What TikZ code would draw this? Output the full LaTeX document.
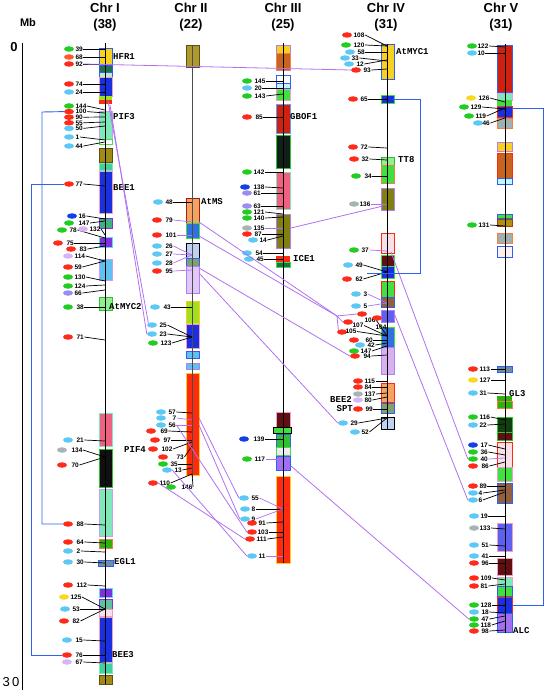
\documentclass[tikz,border=0pt]{standalone}
\usepackage{fontspec}
\setmainfont{Liberation Sans}
\newfontfamily\genefont{Liberation Mono}
\usetikzlibrary{shapes.geometric}
% marker colours
\definecolor{cred}{HTML}{FF2A1A}\definecolor{corg}{HTML}{FF5A28}\definecolor{cgrn}{HTML}{22CC22}
\definecolor{clb}{HTML}{5CC8F5}\definecolor{cblu}{HTML}{1040E8}\definecolor{clav}{HTML}{D8B4F4}
\definecolor{cmp}{HTML}{9A8CF0}\definecolor{cgry}{HTML}{A8B4B4}\definecolor{cyel}{HTML}{F8D820}
\definecolor{plcol}{HTML}{B070F0}\definecolor{blcol}{HTML}{3060F0}
% box colours
\definecolor{bgold}{HTML}{F8D020}\definecolor{bblue}{HTML}{1A30E0}\definecolor{bpink}{HTML}{F0A0C0}
\definecolor{bdkgrn}{HTML}{207050}\definecolor{bpale}{HTML}{B8F0C8}\definecolor{byg}{HTML}{A0E020}
\definecolor{baqua}{HTML}{80E8B8}\definecolor{blavb}{HTML}{C8A0F0}\definecolor{bolive}{HTML}{A08A18}
\definecolor{bdkbr}{HTML}{605010}\definecolor{bteal}{HTML}{40D0A0}\definecolor{bsea}{HTML}{40B080}
\definecolor{bviolet}{HTML}{8030E0}\definecolor{bcyan}{HTML}{60E0E0}\definecolor{bsky}{HTML}{60C0F0}
\definecolor{blgreen}{HTML}{90F090}\definecolor{bgreen}{HTML}{30C030}\definecolor{bpinkred}{HTML}{F06080}
\definecolor{bblack}{HTML}{101010}\definecolor{bgrn2}{HTML}{30B010}\definecolor{borange}{HTML}{F08040}
\definecolor{bslate}{HTML}{7090A0}\definecolor{bmaq}{HTML}{60C0A0}\definecolor{bmisty}{HTML}{F8E0E8}
\definecolor{bsandy}{HTML}{F4A460}\definecolor{bdkred}{HTML}{A02010}\definecolor{broyal}{HTML}{3070E0}
\definecolor{blime}{HTML}{40E040}\definecolor{blsteel}{HTML}{C0D0F0}\definecolor{bgg}{HTML}{80A070}
\definecolor{bthistle}{HTML}{E0C8F8}\definecolor{bpurple}{HTML}{B080F0}\definecolor{bred}{HTML}{FF2A10}
\definecolor{bchoc}{HTML}{C8641E}\definecolor{bsalmon}{HTML}{F08060}\definecolor{blcyan}{HTML}{C0F8FF}
\definecolor{bfire}{HTML}{D02010}\definecolor{bcorn}{HTML}{60A0F0}\definecolor{bnblack}{HTML}{102018}
\definecolor{bolive2}{HTML}{808010}\definecolor{bmaroon}{HTML}{601010}\definecolor{blav2}{HTML}{F0E8F8}
\definecolor{bmp}{HTML}{A070F0}\definecolor{bsienna}{HTML}{906040}\definecolor{bmslate}{HTML}{6060F0}
\definecolor{bplum}{HTML}{D8B0F0}\definecolor{bgray}{HTML}{A0B0B0}\definecolor{bdkg2}{HTML}{104010}
\definecolor{bolive3}{HTML}{B09010}\definecolor{bbrown}{HTML}{A04010}\definecolor{bwhite}{HTML}{FFF0F0}
\definecolor{bolive4}{HTML}{B09A30}
\begin{document}
\begin{tikzpicture}[x=1pt,y=-1pt,
  mk/.style={ellipse,minimum width=10pt,minimum height=5.5pt,inner sep=0pt},
  lab/.style={font=\bfseries\fontsize{6.5}{7}\selectfont,inner sep=0.4pt,anchor=west},
  tick/.style={line width=0.7pt},
  gene/.style={font=\genefont\bfseries\fontsize{9}{9}\selectfont,inner sep=0pt},
  ttl/.style={font=\bfseries\fontsize{13}{13}\selectfont,inner sep=0pt},
  plink/.style={draw=plcol,line width=0.8pt},
  blink/.style={draw=blcol,line width=0.9pt},
  bxs/.style={line width=0.8pt},
  chrline/.style={line width=0.8pt}]
\useasboundingbox (0,0) rectangle (544,690);
% titles
\node[ttl] (t1) at (105,8) {Chr I};   \node[ttl] (n1) at (105,25) {(38)};
\node[ttl] (t2) at (191,8) {Chr II};  \node[ttl] (n2) at (191,25) {(22)};
\node[ttl] (t3) at (283,8) {Chr III}; \node[ttl] (n3) at (283,25) {(25)};
\node[ttl] (t4) at (386,8) {Chr IV};  \node[ttl] (n4) at (386,25) {(31)};
\node[ttl] (t5) at (501,8) {Chr V};   \node[ttl] (n5) at (501,25) {(31)};
\node[font=\bfseries\fontsize{11}{11}\selectfont,inner sep=0pt] (mb) at (28,23) {Mb};
\node[ttl] (z0) at (14,47) {0};
\node[font=\fontsize{13}{13}\selectfont,inner sep=0pt] (z30) at (11,682) {3\,0};
\draw[line width=0.8pt] (22,43) -- (22,690);
% ---------- boxes Chr I
\foreach \ya/\yb/\f/\d in {48/64/bgold/blcol,65/72/bdkgrn/blcol,72/77/bpale/blcol,77/96/bblue/bpink,
  96/100/byg/none,100/104/bred/none,111/143/baqua/blavb,139/144/white/blime,148/162/bolive/bdkbr,
  163/170/bteal/baqua,171/213/bblue/bpink,218/228/bsea/bviolet,237/247/bviolet/bcyan,259/280/bsky/blavb,
  297/310/blgreen/bgreen,413/446/bpinkred/baqua,449/487/bblack/bgreen,489/536/baqua/blavb,
  539/548/bgrn2/borange,588/597/bviolet/bcyan,599/609/bmaq/bviolet,609/616/bmisty/bpink,
  617/662/bblue/bpink,663/673/bteal/baqua,675/684/bolive/bdkbr}
  \path[fill=\f,draw=\d,bxs] (99,\ya) rectangle (112,\yb);
\path[fill=bslate,draw=blcol,bxs] (98,560) rectangle (113,566);
% ---------- boxes Chr II
\foreach \ya/\yb/\f/\d in {45/67/bolive4/bdkbr,198/223/bsandy/bdkred,223/238/broyal/blime,
  243/258/blsteel/black,258/266/bgg/blcol,266/293/bthistle/bpurple,301/323/byg/bgold,
  324/348/bblue/bpink,351/358/bsky/blcol,363/369/bsky/bpurple,373/475/bred/bgold}
  \path[fill=\f,draw=\d,bxs] (186,\ya) rectangle (199,\yb);
% ---------- boxes Chr III
\foreach \ya/\yb/\f/\d in {45/53/bgold/bpurple,53/70/bchoc/bsalmon,75/83/white/blcol,83/88/blcyan/blcol,
  89/100/blime/bpink,104/133/bfire/bcorn,135/168/bnblack/bgreen,172/209/bpinkred/baqua,
  214/248/bolive2/bpurple,256/262/bred/none,262/267/bdkgrn/blime,412/427/bmaroon/bpink,
  434/447/bgreen/blcol,447/455/blav2/blime,456/470/bmp/blcol,476/563/bred/bgold}
  \path[fill=\f,draw=\d,bxs] (276,\ya) rectangle (290,\yb);
\path[fill=blime,draw=black,bxs] (273,427) rectangle (291,433);
% ---------- boxes Chr IV
\foreach \ya/\yb/\f/\d in {44/79/bgold/blcol,95/103/bblue/blime,157/165/blgreen/bgreen,165/183/blime/borange,
  188/210/bolive2/bpurple,233/253/bmisty/bred,255/266/bmaroon/blime,266/278/bblue/blime,
  281/297/blime/bred,297/307/bsienna/blcol,310/322/bmslate/bpurple,327/347/broyal/blime,
  347/374/bplum/bpurple,383/402/bsandy/bred,403/413/bgg/blcol,417/429/blsteel/black}
  \path[fill=\f,draw=\d,bxs] (381,\ya) rectangle (394,\yb);
% ---------- boxes Chr V
\foreach \ya/\yb/\f/\d in {45/92/bfire/blcol,93/100/baqua/bpink,100/106/blime/none,106/117/bblue/bred,
  118/128/bgray/borange,142/151/bgold/bpurple,153/178/bchoc/bred,178/184/blcyan/blcol,
  214/218/blime/blcol,219/226/bolive3/bbrown,233/243/bgray/borange,246/257/bwhite/blcol,
  366/372/bslate/blcol,396/401/bgrn2/none,401/408/bgrn2/borange,417/432/bdkg2/bgreen,
  432/440/bmaroon/bgreen,442/467/bmisty/bred,467/481/blime/bpink,483/503/bsienna/blcol,
  523/551/bmslate/bpink,558/575/bmaroon/bpink,577/586/baqua/bpink,586/596/blime/blcol,
  597/613/bblue/bred,613/632/bmp/blcol}
  \path[fill=\f,draw=\d,bxs] (497,\ya) rectangle (512,\yb);
% ---------- chromosome axes
\draw[chrline] (105,43) -- (105,684);
\draw[chrline,draw=black!70,line width=1pt] (192,45) -- (192,478);
\draw[chrline] (283,43) -- (283,563);
\draw[chrline] (387,44) -- (387,430);
\draw[chrline] (505,44) -- (505,633);
% ---------- markers Chr I
\foreach \ex/\lx/\y/\col/\lab/\ty/\tc in {69/75/49/cgrn/39/49/black,69/75/57/corg/68/57/black,
  69/75/64/cred/92/64/black,69/75/84/cred/74/84/black,69/75/92/clb/24/92/black,
  69/75/106/cgrn/144/110/black,69/75/111.6/cred/100/113/black,69/75/117.2/cred/90/117/black,
  69/75/122.8/cred/55/122/black,69/75/128.4/clb/50/126/black,69/75/137/clb/1/140/black,
  69/75/146/clb/44/142/black,69/75/184/cred/77/186/black,72/78/216/cblu/16/219/black,
  69/78/223/cgrn/147/221/black,62/69/230/cgrn/78/238/black,83/89/229/clav/132/235/black,
  58/66/243/cred/75/243/black,71/79/249/cred/83/246/black,68/74/256/clav/114/261/black,
  68/74/267/cred/59/261/black,68/74/277/cgrn/130/281/black,68/74/286/cgrn/124/285/black,
  68/74/293/cmp/66/290/black,68/76/307/cgrn/38/307/black,68/76/337/cred/71/340/black,
  68/76/440/clb/21/441/black,62/71/450/cgry/134/457/black,62/71/465/cred/70/457/black,
  68/76/524/cred/88/525/black,68/76/542/cred/64/543/black,68/76/551/clb/2/552/black,
  68/76/562/clb/30/563/black,68/76/585/cred/112/586/black,64/70/597/cyel/125/609/black,
  65/72/609/clb/53/609/black,64/72/621/cred/82/609/black,67/75/640/clb/15/641/black,
  67/75/655/cred/76/655/black,67/75/662/clav/67/663/black}
  {\node[mk,fill=\col] (I-e\lab) at (\ex,\y) {};
   \node[lab] (I-l\lab) at (\lx,\y) {\lab};
   \draw[tick,draw=\tc] (I-l\lab.east) -- (105,\ty);}
% ---------- markers Chr II
\foreach \ex/\lx/\y/\col/\lab/\ty/\tc in {158/165/202/clb/48/202/black,157/165/220/cred/79/222/plcol,
  157/165/235/cred/101/235/plcol,157/165/246/clb/26/255/plcol,157/165/254/clb/27/255/plcol,
  157/165/263/clb/28/255/plcol,157/165/271/cred/95/270/plcol,155/163/307/clb/43/307/black,
  152/159/325/clb/25/337/black,152/159/334/clb/23/337/black,153/160/343/cgrn/123/337/black,
  161/168/412/clb/57/413/black,161/172/418/clb/7/420/plcol,161/168/425/clb/56/425/plcol,
  151/160/431/cred/69/432/black,155/163/440/cred/97/440/black,153/161/449/cred/102/442/black,
  163/176/457/cred/73/446/black,163/170/464/cgrn/35/464/black,167/174/470/clb/13/468/black,
  153/159/483/cred/110/474/black,171/181/487/cgrn/146/474/black}
  {\node[mk,fill=\col] (II-e\lab) at (\ex,\y) {};
   \node[lab] (II-l\lab) at (\lx,\y) {\lab};
   \draw[tick,draw=\tc] (II-l\lab.east) -- (192,\ty);}
% ---------- markers Chr III
\foreach \ex/\lx/\y/\col/\lab/\ty/\tc in {247/254/81/cgrn/145/81/black,247/254/88/clb/20/88/black,
  247/254/96/cgrn/143/94/black,247/255/117/cred/85/117/black,247/253/172/cgrn/142/172/black,
  245/253/187/cblu/138/188/black,247/253/193/cmp/61/193/black,247/253/206/cmp/63/206/black,
  247/253/212/cgrn/121/214/black,247/253/218/cgrn/140/217/black,247/253/228/cgry/135/228/plcol,
  247/254/234/cred/87/234/black,253/259/240/clb/14/236/black,247/255/253/clb/54/253/black,
  249/256/259/clb/45/259/black,244/253/439/cblu/139/439/black,247/254/459/cgrn/117/459/plcol,
  244/251/498/clb/55/509/plcol,245/251/509/clb/8/509/black,245/251/519/clb/9/509/plcol,
  252/258/523/cred/91/522/black,252/257/532/cred/103/532/black,250/256/539/cred/111/537/black,
  252/258/556/clb/11/556/plcol}
  {\node[mk,fill=\col] (III-e\lab) at (\ex,\y) {};
   \node[lab] (III-l\lab) at (\lx,\y) {\lab};
   \draw[tick,draw=\tc] (III-l\lab.east) -- (283,\ty);}
% ---------- markers Chr IV
\foreach \ex/\lx/\y/\col/\lab/\ty/\tc in {347/353/35/cred/108/46/black,346/353/45/cgrn/120/46/black,
  350/357/52/clb/58/52/black,345/351/58/clb/33/61/black,349/356/64/clb/12/60/black,
  356/363/70/cred/93/69/black,353/360/99/cred/65/99/black,353/360/147/cred/72/148/black,
  354/361/159/cred/32/160/black,356/364/176/cgrn/34/176/black,354/359/204/cgry/136/204/plcol,
  354/361/250/cgrn/37/251/plcol,348/355/265/clb/49/272/black,347/355/279/cred/62/272/black,
  356/363/294/clb/3/303/plcol,356/363/306/clb/5/303/plcol,354/365/340/cred/60/340/black,
  360/367/345/clb/42/343/black,354/360/351/cgrn/147/346/black,355/363/356/cred/94/355/black,
  358/364/381/cred/115/381/black,358/364/387/cred/84/387/black,358/364/394/cgry/137/393/black,
  358/364/400/clav/80/397/black,358/365/409/cred/99/409/black,343/350/423/clb/29/418/black,
  355/361/432/clb/52/418/black}
  {\node[mk,fill=\col] (IV-e\lab) at (\ex,\y) {};
   \node[lab] (IV-l\lab) at (\lx,\y) {\lab};
   \draw[tick,draw=\tc] (IV-l\lab.east) -- (387,\ty);}
\foreach \ex/\ey/\lx/\ly/\lab in {362/314/364/320/106,377/318/375/327/104,348/322/352/325.5/107,342/332/345/331.5/105}
  {\node[mk,fill=cred] (IV-e\lab) at (\ex,\ey) {};
   \node[lab] (IV-l\lab) at (\lx,\ly) {\lab};
   \draw[tick] (IV-l\lab.east) -- (387,336);}
% ---------- markers Chr V
\foreach \ex/\lx/\y/\col/\lab/\ty/\tc in {472/477/46/cgrn/122/47/black,472/477/53/clb/10/53/black,
  471/478/98/cyel/126/102/black,464/470/107/cgrn/129/109/black,469/475/116/cgrn/119/108/black,
  478/482/123/clb/46/118/black,472/478/225/cgrn/131/226/black,473/479/369/cred/113/369/black,
  473/479/380/cyel/127/380/black,473/479/393/clb/31/394/black,473/479/417/cgrn/116/420/black,
  473/479/425/clb/22/424/black,473/480/445/cblu/17/449/black,473/480/452/cgrn/36/455/black,
  473/480/459/cgrn/40/458/plcol,473/481/466/cred/86/462/black,473/479/486/cred/89/486/black,
  473/478/493/clb/4/490/black,473/478/500/clb/6/492/black,474/480/516/clb/19/516/black,
  474/479/528/cgry/133/529/black,474/481/545/clb/51/546/black,474/481/556/clb/41/556/black,
  474/481/563/cred/96/563/black,474/480/578/cred/109/580/black,474/480/586/cred/81/584/black,
  474/480/605/cgrn/128/605/black,474/481/612/clb/18/613/black,474/481/619/cgrn/47/616/black,
  474/480/625/cgrn/118/621/black,474/481/631/cred/98/630/black}
  {\node[mk,fill=\col] (V-e\lab) at (\ex,\y) {};
   \node[lab] (V-l\lab) at (\lx,\y) {\lab};
   \draw[tick,draw=\tc] (V-l\lab.east) -- (505,\ty);}
% ---------- gene names
\node[gene,anchor=west] (gHFR1) at (113,57) {HFR1};
\node[gene,anchor=west] (gPIF3) at (113,117) {PIF3};
\node[gene,anchor=west] (gBEE1) at (113,188) {BEE1};
\node[gene,anchor=west] (gMYC2) at (109,307) {AtMYC2};
\node[gene,anchor=west] (gEGL1) at (114,562) {EGL1};
\node[gene,anchor=west] (gBEE3) at (112,655) {BEE3};
\node[gene,anchor=west] (gAMS) at (201,202) {AtMS};
\node[gene,anchor=west] (gPIF4) at (124,450) {PIF4};
\node[gene,anchor=west] (gGBOF1) at (290,117) {GBOF1};
\node[gene,anchor=west] (gICE1) at (293,259) {ICE1};
\node[gene,anchor=west] (gMYC1) at (396,52) {AtMYC1};
\node[gene,anchor=west] (gTT8) at (398,160) {TT8};
\node[gene,anchor=east] (gBEE2) at (352,399) {BEE2};
\node[gene,anchor=east] (gSPT) at (353,409) {SPT};
\node[gene,anchor=west] (gGL3) at (509,394) {GL3};
\node[gene,anchor=west] (gALC) at (513,631) {ALC};
% ---------- purple links
\coordinate (I-a) at (108,101); \coordinate (I-b) at (110,105);
\coordinate (II-a) at (199,222); \coordinate (II-b) at (199,236);
\coordinate (II-c) at (199,268); \coordinate (II-d) at (199,273);
\coordinate (II-e) at (199,418); \coordinate (II-f) at (199,425);
\coordinate (III-a) at (291,228); \coordinate (III-c) at (291,466);
\coordinate (IV-fan) at (337,316); \coordinate (IV-b) at (383,206);
\coordinate (IV-c) at (391,252); \coordinate (IV-d) at (394,313);
\draw[plink] (I-l92.east) -- (IV-e93.west);
\draw[plink] (I-a) -- (II-e25.north west);
\draw[plink] (I-b) -- (II-e23.west);
\draw[plink] (II-a) -- (IV-fan);
\draw[plink] (II-b) -- (IV-fan);
\draw[plink] (IV-fan) -- (IV-e106.west);
\draw[plink] (IV-fan) -- (IV-e107.west);
\draw[plink] (IV-fan) -- (IV-e105.north west);
\draw[plink] (II-c) -- (IV-e94.west);
\draw[plink] (II-d) -- (IV-e29.west);
\draw[plink] (III-a) -- (IV-b);
\draw[plink] (IV-c) -- (V-e40.west);
\draw[plink] (IV-d) -- (V-e6.west);
\draw[plink] (II-e) -- (III-e55.west);
\draw[plink] (II-f) -- (III-e9.west);
\draw[plink] (II-l56.east) -- (III-e103.west);
\draw[plink] (II-e13.east) -- (III-e11.west);
\draw[plink] (II-e110.east) -- (III-e111.west);
\draw[plink] (III-c) -- (V-e47.west);
% ---------- blue links
\coordinate (IV-g) at (393,99); \coordinate (IV-h) at (367,273);
\coordinate (V-g) at (512,108); \coordinate (V-h) at (512,605);
\draw[blink] (I-e100.west) -- (42,112) -- (42,524) -- (I-e88.west);
\draw[blink] (I-e77.west) -- (31,184) -- (31,655) -- (I-e76.west);
\draw[blink] (IV-g) -- (420,99) -- (420,273) -- (IV-h);
\draw[blink] (V-g) -- (543,108) -- (543,605) -- (V-h);
\end{tikzpicture}
\end{document}
